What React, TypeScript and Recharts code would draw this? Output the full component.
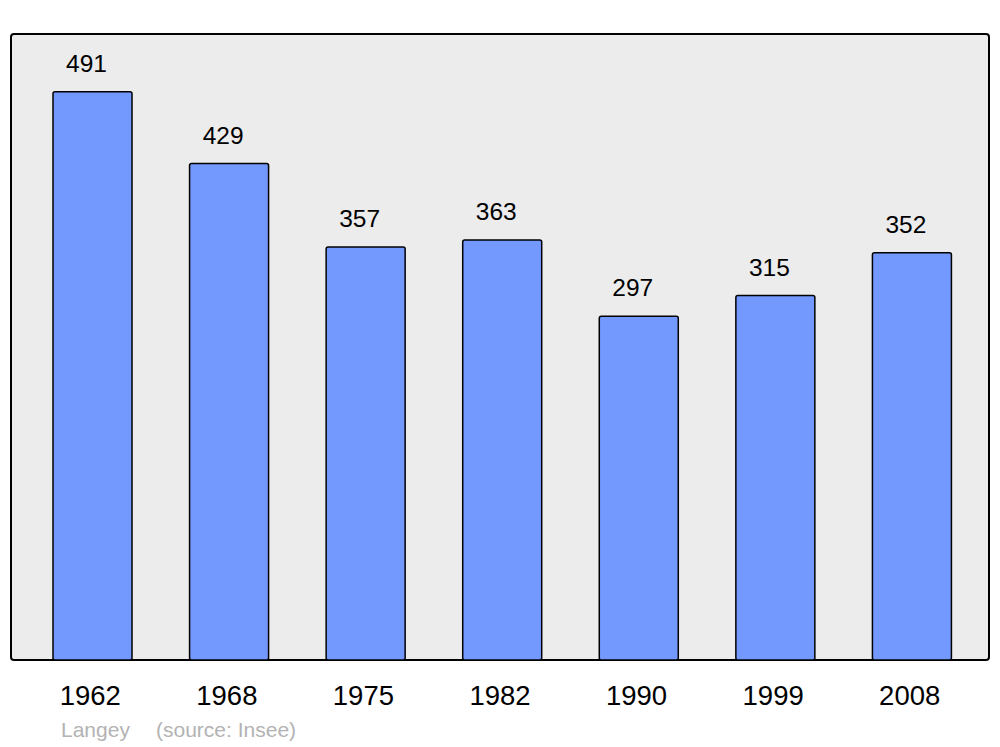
import { BarChart, Bar, XAxis, YAxis, LabelList } from 'recharts'

const years = ['1962', '1968', '1975', '1982', '1990', '1999', '2008']
const population = [491, 429, 357, 363, 297, 315, 352]

const data = years.map((year, i) => ({ year, population: population[i] }))

const FONT = '"Liberation Sans", Arial, sans-serif'

export default function App() {
  return (
    <div style={{ position: 'absolute', left: 0, top: 0, width: 1000, height: 747, background: '#fff', fontFamily: FONT }}>
      {/* plot frame */}
      <div
        style={{
          position: 'absolute',
          left: 10,
          top: 33,
          width: 976,
          height: 624,
          background: '#ececec',
          border: '2.5px solid #000',
          borderRadius: 4,
        }}
      />
      <div style={{ position: 'absolute', left: 0, top: 0 }}>
        <BarChart width={1000} height={747} data={data} margin={{ top: 34, right: 20, left: 24, bottom: 0 }}>
          <XAxis
            dataKey="year"
            height={87}
            axisLine={false}
            tickLine={false}
            tickSize={0}
            tickMargin={25}
            tick={{ fill: '#000', fontSize: 27.5, fontFamily: FONT, dx: -2 }}
            interval={0}
          />
          <YAxis hide domain={[0, 541]} />
          <Bar dataKey="population" fill="#7399ff" stroke="#000" strokeWidth={1.5} barSize={79} radius={2} isAnimationActive={false}>
            <LabelList
              dataKey="population"
              position="top"
              offset={20}
              dx={-6}
              fill="#000"
              fontSize={24.5}
              fontFamily={FONT}
            />
          </Bar>
        </BarChart>
      </div>
      <div style={{ position: 'absolute', left: 61, top: 718, fontSize: 21, color: '#b3b3b3', whiteSpace: 'pre' }}>
        Langey
      </div>
      <div style={{ position: 'absolute', left: 156, top: 718, fontSize: 21, color: '#b3b3b3', whiteSpace: 'pre' }}>
        (source: Insee)
      </div>
    </div>
  )
}
